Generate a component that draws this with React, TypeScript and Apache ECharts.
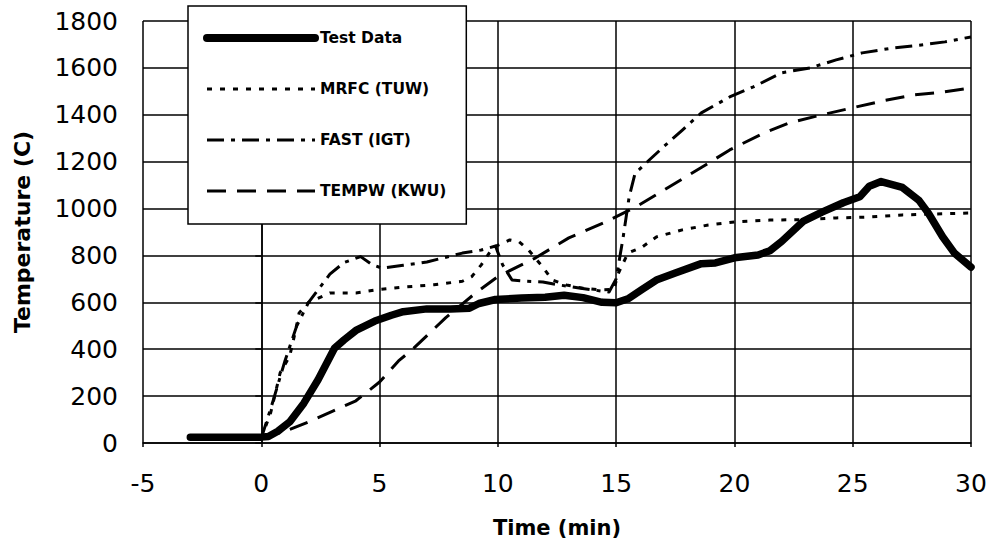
import React, { useEffect, useRef } from "react";
import * as echarts from "echarts";

const xTicks = { min: -5, max: 30, interval: 5 };
const yTicks = { min: 0, max: 1800, interval: 200 };

const seriesNames = ["Test Data", "MRFC (TUW)", "FAST (IGT)", "TEMPW (KWU)"];

const testData: [number, number][] = [
  [-3, 25], [-2, 25], [-1, 25], [0, 25], [0.3, 28], [0.7, 50], [1.2, 90], [1.8, 170],
  [2.4, 270], [3.1, 405], [3.5, 440], [4, 480], [4.8, 520], [5.5, 545], [6, 560],
  [7, 572], [8, 572], [8.8, 575], [9.2, 595], [9.9, 612], [11, 618], [12, 622],
  [12.8, 630], [13.6, 620], [14.4, 600], [15, 598], [15.5, 615], [16.1, 655],
  [16.7, 695], [17.5, 725], [18.6, 765], [19.2, 768], [20, 790], [21, 802],
  [21.5, 820], [22, 860], [22.9, 945], [23.7, 985], [24.6, 1025], [25.3, 1050],
  [25.7, 1095], [26.2, 1115], [27.1, 1090], [27.8, 1035], [28.2, 980], [28.8, 880],
  [29.3, 810], [30, 750],
];

const mrfcData: [number, number][] = [
  [0, 20], [0.4, 130], [0.8, 300], [1.2, 370], [1.45, 480], [1.6, 555], [2, 600],
  [2.9, 640], [4, 640], [5, 655], [6, 665], [7.3, 675], [8.5, 690], [8.9, 710],
  [9.3, 760], [9.8, 835], [10.5, 866], [10.9, 858], [11.3, 823], [11.9, 750],
  [12.3, 695], [12.9, 674], [13.6, 660], [14.3, 653], [14.9, 655], [15.1, 725],
  [15.5, 810], [16.1, 836], [16.7, 879], [17.8, 909], [18.9, 930], [20, 943],
  [21.5, 951], [23, 953], [24.3, 960], [25.7, 964], [27.1, 973], [28.5, 977], [30, 981],
];

const fastData: [number, number][] = [
  [0, 20], [0.5, 180], [1, 350], [1.5, 500], [2, 600], [2.9, 720], [3.5, 770],
  [4.2, 795], [4.7, 760], [5.1, 746], [6, 758], [7, 772], [8.5, 810], [9.3, 823],
  [9.9, 840], [10.2, 760], [10.6, 695], [11.2, 690], [11.9, 687], [12.6, 674],
  [13.5, 660], [14.7, 644], [15, 700], [15.3, 880], [15.55, 1050], [15.8, 1150],
  [16.4, 1207], [17, 1263], [17.8, 1335], [18.6, 1408], [19.8, 1476], [20.8, 1519],
  [22, 1579], [23.2, 1600], [24.3, 1634], [25.4, 1664], [26.7, 1685], [27.9, 1698],
  [28.9, 1711], [30, 1732],
];

const tempwData: [number, number][] = [
  [0, 20], [1, 50], [2, 90], [3, 135], [4, 180], [5, 260], [5.8, 350], [6.4, 400],
  [7.8, 535], [9, 635], [10, 710], [11.6, 790], [13, 875], [14.5, 940], [15.8, 1005],
  [17.2, 1090], [18.6, 1175], [19.8, 1250], [21.2, 1320], [22.3, 1365], [23.7, 1400],
  [25, 1430], [26.3, 1460], [27.6, 1485], [28.8, 1497], [30, 1515],
];

const allData = [testData, mrfcData, fastData, tempwData];
const lineWidths = [7.5, 3, 3, 3];
const legendWidths = [8, 3, 3, 3];
const dashes: any[] = ["solid", [5, 8], [17, 7, 4, 7], [19, 11]];

export default function App() {
  const ref = useRef<HTMLDivElement>(null);
  useEffect(() => {
    if (!ref.current) return;
    const chart = echarts.init(ref.current, undefined, { renderer: "svg" });
    const font = "DejaVu Sans";
    chart.setOption({
      animation: false,
      backgroundColor: "#ffffff",
      grid: { left: 143, right: 23, top: 21, bottom: 105, containLabel: false },
      legend: {
        orient: "vertical",
        left: 188,
        top: 6,
        padding: [24, 20, 25, 15],
        itemWidth: 108,
        itemHeight: 14,
        itemGap: 35,
        backgroundColor: "#ffffff",
        borderColor: "#000000",
        borderWidth: 1.5,
        borderRadius: 0,
        z: 10,
        selectedMode: false,
        itemStyle: { opacity: 0, borderWidth: 0 },
        textStyle: { fontFamily: font, fontWeight: "bold", fontSize: 15.5, color: "#000" },
        data: seriesNames.map((n, i) => ({
          name: n,
          itemStyle: { opacity: 0, borderWidth: 0 },
          lineStyle: { width: legendWidths[i], type: dashes[i], color: "#000" },
        })),
      },
      xAxis: {
        type: "value",
        min: xTicks.min,
        max: xTicks.max,
        interval: xTicks.interval,
        name: "Time (min)",
        nameLocation: "middle",
        nameGap: 74,
        nameTextStyle: { fontFamily: font, fontWeight: "bold", fontSize: 21, color: "#000" },
        axisLine: { show: true, lineStyle: { color: "#000", width: 1.5 } },
        axisTick: { show: true, length: 4, lineStyle: { color: "#000", width: 1.5 } },
        splitLine: { show: true, lineStyle: { color: "#000", width: 1.5 } },
        axisLabel: { fontFamily: font, fontSize: 25, color: "#000", margin: 28, formatter: (v: number) => String(v) },
      },
      yAxis: {
        type: "value",
        min: yTicks.min,
        max: yTicks.max,
        interval: yTicks.interval,
        name: "Temperature (C)",
        nameLocation: "middle",
        nameGap: 110,
        nameTextStyle: { fontFamily: font, fontWeight: "bold", fontSize: 22, color: "#000" },
        axisLine: { show: true, lineStyle: { color: "#000", width: 1.5 } },
        axisTick: { show: true, length: 6, lineStyle: { color: "#000", width: 1.5 } },
        splitLine: { show: true, lineStyle: { color: "#000", width: 1.5 } },
        axisLabel: { fontFamily: font, fontSize: 25, color: "#000", margin: 25, formatter: (v: number) => String(v) },
      },
      series: seriesNames.map((n, i) => ({
        name: n,
        type: "line",
        data: allData[i],
        symbol: "none",
        showSymbol: false,
        z: i === 0 ? 5 : 3,
        itemStyle: { color: "#000" },
        lineStyle: {
          color: "#000",
          width: lineWidths[i],
          type: dashes[i],
          cap: i === 0 ? "round" : "butt",
          join: "round",
        },
      })),
    });
    return () => chart.dispose();
  }, []);
  return (
    <div
      ref={ref}
      style={{ position: "fixed", left: 0, top: 0, width: 994, height: 548, background: "#fff" }}
    />
  );
}
